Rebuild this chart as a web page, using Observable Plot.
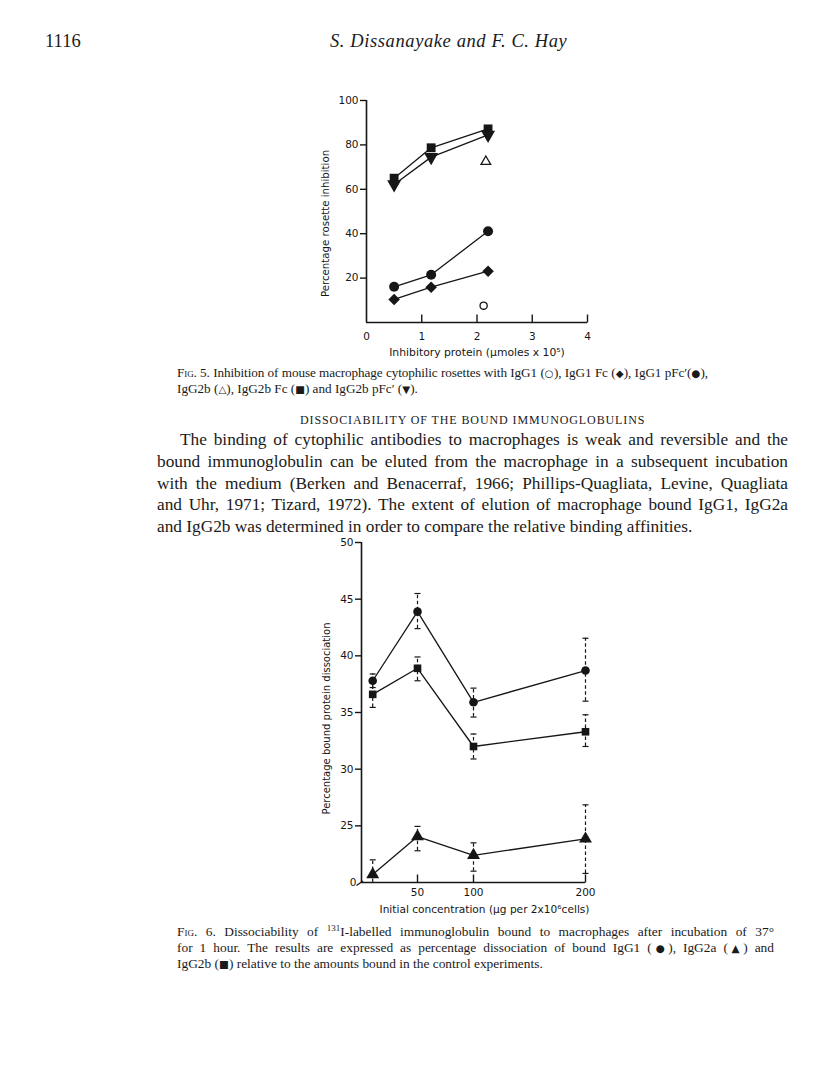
<!DOCTYPE html>
<html>
<head>
<meta charset="utf-8">
<script src="https://cdn.jsdelivr.net/npm/d3@7"></script>
<script src="https://cdn.jsdelivr.net/npm/@observablehq/plot@0.6"></script>
<style>
  body { margin: 0; background: #ffffff; }
  #page { position: relative; width: 816px; height: 1079px; overflow: hidden; color: #1a1a1a; font-family: "Liberation Serif", "DejaVu Serif", serif; }
  .abs { position: absolute; white-space: nowrap; }
  .cap { font-size: 13.2px; line-height: 16px; }
  .jl { display: block; text-align: justify; text-align-last: justify; white-space: normal; }
  .sc { font-variant: small-caps; }
  .sym { font-family: "DejaVu Sans", sans-serif; font-size: 0.78em; }
  .para { font-size: 17.3px; line-height: 21.8px; }
  #chart1, #chart2 { position: absolute; }
  svg { overflow: visible; }
</style>
</head>
<body>
<div id="page">
  <div class="abs" style="left:45px; top:31px; font-size:18.5px;">1116</div>
  <div class="abs" style="left:330px; top:31px; font-size:18.5px; font-style:italic; letter-spacing:0.6px;">S. Dissanayake and F. C. Hay</div>

  <div id="chart1" style="left:280px; top:85px;"></div>

  <div class="abs cap" style="left:177px; top:365px; width:531px;">
    <span class="jl" style="letter-spacing:-0.1px;"><span class="sc">Fig</span>. 5. Inhibition of mouse macrophage cytophilic rosettes with IgG1 (<span class="sym">○</span>), IgG1 Fc (<span class="sym">◆</span>), IgG1 pFc′(<span class="sym">●</span>),</span>
    <span style="display:block">IgG2b (<span class="sym">△</span>), IgG2b Fc (<span class="sym">■</span>) and IgG2b pFc′ (<span class="sym">▼</span>).</span>
  </div>

  <div class="abs" style="left:300px; top:413px; font-size:12px; letter-spacing:0.9px;">DISSOCIABILITY OF THE BOUND IMMUNOGLOBULINS</div>

  <div class="abs para" style="left:157px; top:429px; width:631px;">
    <span class="jl" style="padding-left:23px;">The binding of cytophilic antibodies to macrophages is weak and reversible and the</span>
    <span class="jl">bound immunoglobulin can be eluted from the macrophage in a subsequent incubation</span>
    <span class="jl">with the medium (Berken and Benacerraf, 1966; Phillips-Quagliata, Levine, Quagliata</span>
    <span class="jl">and Uhr, 1971; Tizard, 1972). The extent of elution of macrophage bound IgG1, IgG2a</span>
    <span style="display:block">and IgG2b was determined in order to compare the relative binding affinities.</span>
  </div>

  <div id="chart2" style="left:280px; top:530px;"></div>

  <div class="abs cap" style="left:177px; top:924px; width:597px; font-size:13.4px;">
    <span class="jl"><span class="sc">Fig</span>. 6. Dissociability of <sup style="font-size:9px;line-height:0">131</sup>I-labelled immunoglobulin bound to macrophages after incubation of 37°</span>
    <span class="jl">for 1 hour. The results are expressed as percentage dissociation of bound IgG1 (<span class="sym">●</span>), IgG2a (<span class="sym">▲</span>) and</span>
    <span style="display:block">IgG2b (<span class="sym">■</span>) relative to the amounts bound in the control experiments.</span>
  </div>
</div>

<script>
// ---------- Fig. 5 data ----------
const fig5Dose = [0.5, 1.17, 2.2];
const fig5IgG2bFc = [65, 78.7, 87.2];        // filled squares
const fig5IgG2bPFc = [62.2, 74.5, 84.5];     // filled down-triangles
const fig5IgG1PFc = [16.1, 21.5, 41.1];      // filled circles
const fig5IgG1Fc = [10.4, 15.9, 23.1];       // filled diamonds
const fig5IgG1Dose = [2.12];
const fig5IgG1 = [7.6];                      // open circle
const fig5IgG2bDose = [2.16];
const fig5IgG2b = [72.5];                    // open triangle
const fig5XTicks = [0, 1, 2, 3, 4];
const fig5YTicks = [20, 40, 60, 80, 100];

// ---------- Fig. 6 data ----------
const fig6Conc = [10, 50, 100, 200];
const fig6IgG1 = [37.8, 43.9, 35.9, 38.7];
const fig6IgG1Up = [0.6, 1.6, 1.25, 2.85];
const fig6IgG1Down = [0.6, 1.5, 1.3, 2.7];
const fig6IgG2b = [36.6, 38.9, 32.0, 33.3];
const fig6IgG2bUp = [1.0, 1.0, 1.1, 1.5];
const fig6IgG2bDown = [1.15, 1.1, 1.1, 1.3];
const fig6IgG2a = [20.7, 24.05, 22.4, 23.85];
const fig6IgG2aUp = [1.3, 0.9, 1.1, 3.0];
const fig6IgG2aDown = [0.7, 1.25, 1.4, 3.05];
const fig6XTicks = [50, 100, 200];
const fig6YTicks = [25, 30, 35, 40, 45, 50];
const fig6YBreak = 20; // axis is broken: bottom labelled "0"

const ink = "#161616";

// custom symbols
const tickUp = { draw(ctx, size) { const l = Math.sqrt(size / Math.PI); ctx.moveTo(0, 0); ctx.lineTo(0, -l); } };
const capSym = { draw(ctx, size) { const l = Math.sqrt(size / Math.PI); ctx.moveTo(-l, 0); ctx.lineTo(l, 0); } };
const breakSym = { draw(ctx, size) { const l = Math.sqrt(size / Math.PI); ctx.moveTo(-l, l * 0.6); ctx.lineTo(l * 0.3, -l * 0.3); } };

const series = (xs, ys, name) => xs.map((x, i) => ({ x, y: ys[i], name }));

// ---------- Fig. 5 ----------
const f5sq = series(fig5Dose, fig5IgG2bFc, "IgG2b Fc");
const f5tr = series(fig5Dose, fig5IgG2bPFc, "IgG2b pFc'");
const f5ci = series(fig5Dose, fig5IgG1PFc, "IgG1 pFc'");
const f5di = series(fig5Dose, fig5IgG1Fc, "IgG1 Fc");
const f5oc = series(fig5IgG1Dose, fig5IgG1, "IgG1");
const f5ot = series(fig5IgG2bDose, fig5IgG2b, "IgG2b");
const f5lines = [...f5sq, ...f5tr, ...f5ci, ...f5di];

const chart1 = Plot.plot({
  width: 330, height: 285,
  marginLeft: 86, marginRight: 23, marginTop: 15, marginBottom: 48,
  style: { fontFamily: "DejaVu Sans, sans-serif", fontSize: "10.5px", color: ink, background: "transparent" },
  x: { domain: [0, 4] },
  y: { domain: [0, 100] },
  marks: [
    Plot.ruleX([0], { stroke: ink, strokeWidth: 1.6 }),
    Plot.ruleY([0], { stroke: ink, strokeWidth: 1.6 }),
    Plot.axisY({ ticks: fig5YTicks, tickSize: 6, tickPadding: 2, tickFormat: d => String(d), label: null, strokeWidth: 1.4 }),
    Plot.axisX({ ticks: fig5XTicks, tickSize: 0, tickPadding: 10, tickFormat: d => String(d), label: null }),
    Plot.dot(fig5XTicks.slice(1), { x: d => d, y: () => 0, symbol: tickUp, r: 8, stroke: ink, strokeWidth: 1.4, fill: "none" }),
    Plot.text(["Percentage rosette inhibition"], { text: d => d, frameAnchor: "left", textAnchor: "middle", lineAnchor: "middle", rotate: -90, dx: -41, dy: 12, fontSize: 10.2, fill: ink }),
    Plot.text(["Inhibitory protein (\u00b5moles x 10\u2075)"], { text: d => d, frameAnchor: "bottom", textAnchor: "middle", lineAnchor: "middle", dy: 30, fontSize: 10.8, fill: ink }),
    Plot.line(f5lines, { x: "x", y: "y", z: "name", stroke: ink, strokeWidth: 1.3 }),
    Plot.dot(f5sq, { x: "x", y: "y", symbol: "square", r: 5, fill: ink }),
    Plot.dot(f5tr, { x: "x", y: "y", symbol: "triangle", rotate: 180, r: 5.2, fill: ink }),
    Plot.dot(f5ci, { x: "x", y: "y", symbol: "circle", r: 5, fill: ink }),
    Plot.dot(f5di, { x: "x", y: "y", symbol: "diamond2", r: 5.2, fill: ink }),
    Plot.dot(f5oc, { x: "x", y: "y", symbol: "circle", r: 3.6, fill: "none", stroke: ink, strokeWidth: 1.3 }),
    Plot.dot(f5ot, { x: "x", y: "y", symbol: "triangle", r: 3.6, fill: "none", stroke: ink, strokeWidth: 1.3 })
  ]
});
document.getElementById("chart1").appendChild(chart1);

// ---------- Fig. 6 ----------
const f6 = (ys, up, down, name) => fig6Conc.map((x, i) => ({ x, y: ys[i], lo: Math.max(fig6YBreak, ys[i] - down[i]), hi: ys[i] + up[i], name }));
const g1 = f6(fig6IgG1, fig6IgG1Up, fig6IgG1Down, "IgG1");
const g2b = f6(fig6IgG2b, fig6IgG2bUp, fig6IgG2bDown, "IgG2b");
const g2a = f6(fig6IgG2a, fig6IgG2aUp, fig6IgG2aDown, "IgG2a");
const all6 = [...g1, ...g2b, ...g2a];

const chart2 = Plot.plot({
  width: 330, height: 390,
  marginLeft: 81, marginRight: 25, marginTop: 12, marginBottom: 38,
  style: { fontFamily: "DejaVu Sans, sans-serif", fontSize: "10.5px", color: ink, background: "transparent" },
  x: { domain: [0, 200] },
  y: { domain: [fig6YBreak, 50] },
  marks: [
    Plot.ruleX([0], { stroke: ink, strokeWidth: 1.6 }),
    Plot.ruleY([fig6YBreak], { stroke: ink, strokeWidth: 1.6 }),
    Plot.axisY({ ticks: fig6YTicks, tickSize: 6, tickPadding: 2, tickFormat: d => String(d), label: null, strokeWidth: 1.4, style: { letterSpacing: "1px" } }),
    Plot.axisY({ ticks: [fig6YBreak], tickSize: 0, tickPadding: 5, tickFormat: () => "0", label: null }),
    Plot.dot([0], { x: d => d, y: () => fig6YBreak, symbol: breakSym, r: 5, stroke: ink, strokeWidth: 1.3, fill: "none" }),
    Plot.axisX({ ticks: fig6XTicks, tickSize: 0, tickPadding: 6, tickFormat: d => String(d), label: null, style: { letterSpacing: "1px" } }),
    Plot.dot(fig6XTicks, { x: d => d, y: () => fig6YBreak, symbol: tickUp, r: 8, stroke: ink, strokeWidth: 1.4, fill: "none" }),
    Plot.text(["Percentage bound protein dissociation"], { text: d => d, frameAnchor: "left", textAnchor: "middle", lineAnchor: "middle", rotate: -90, dx: -35, dy: 6, fontSize: 10, fill: ink }),
    Plot.text(["Initial concentration (\u00b5g per 2x10\u2076cells)"], { text: d => d, frameAnchor: "bottom", textAnchor: "middle", lineAnchor: "middle", dy: 27, dx: 11, fontSize: 10.6, fill: ink, style: { letterSpacing: "0.3px" } }),
    Plot.ruleX(all6, { x: "x", y1: "lo", y2: "hi", stroke: ink, strokeWidth: 1.2, strokeDasharray: "3.5,2.5" }),
    Plot.dot(all6, { x: "x", y: "hi", symbol: capSym, r: 3, stroke: ink, strokeWidth: 1.2, fill: "none" }),
    Plot.dot(all6.filter(d => d.lo > fig6YBreak), { x: "x", y: "lo", symbol: capSym, r: 3, stroke: ink, strokeWidth: 1.2, fill: "none" }),
    Plot.line(all6, { x: "x", y: "y", z: "name", stroke: ink, strokeWidth: 1.3 }),
    Plot.dot(g1, { x: "x", y: "y", symbol: "circle", r: 4.3, fill: ink }),
    Plot.dot(g2b, { x: "x", y: "y", symbol: "square", r: 4.3, fill: ink }),
    Plot.dot(g2a, { x: "x", y: "y", symbol: "triangle", r: 4.8, fill: ink })
  ]
});
document.getElementById("chart2").appendChild(chart2);
</script>
</body>
</html>
